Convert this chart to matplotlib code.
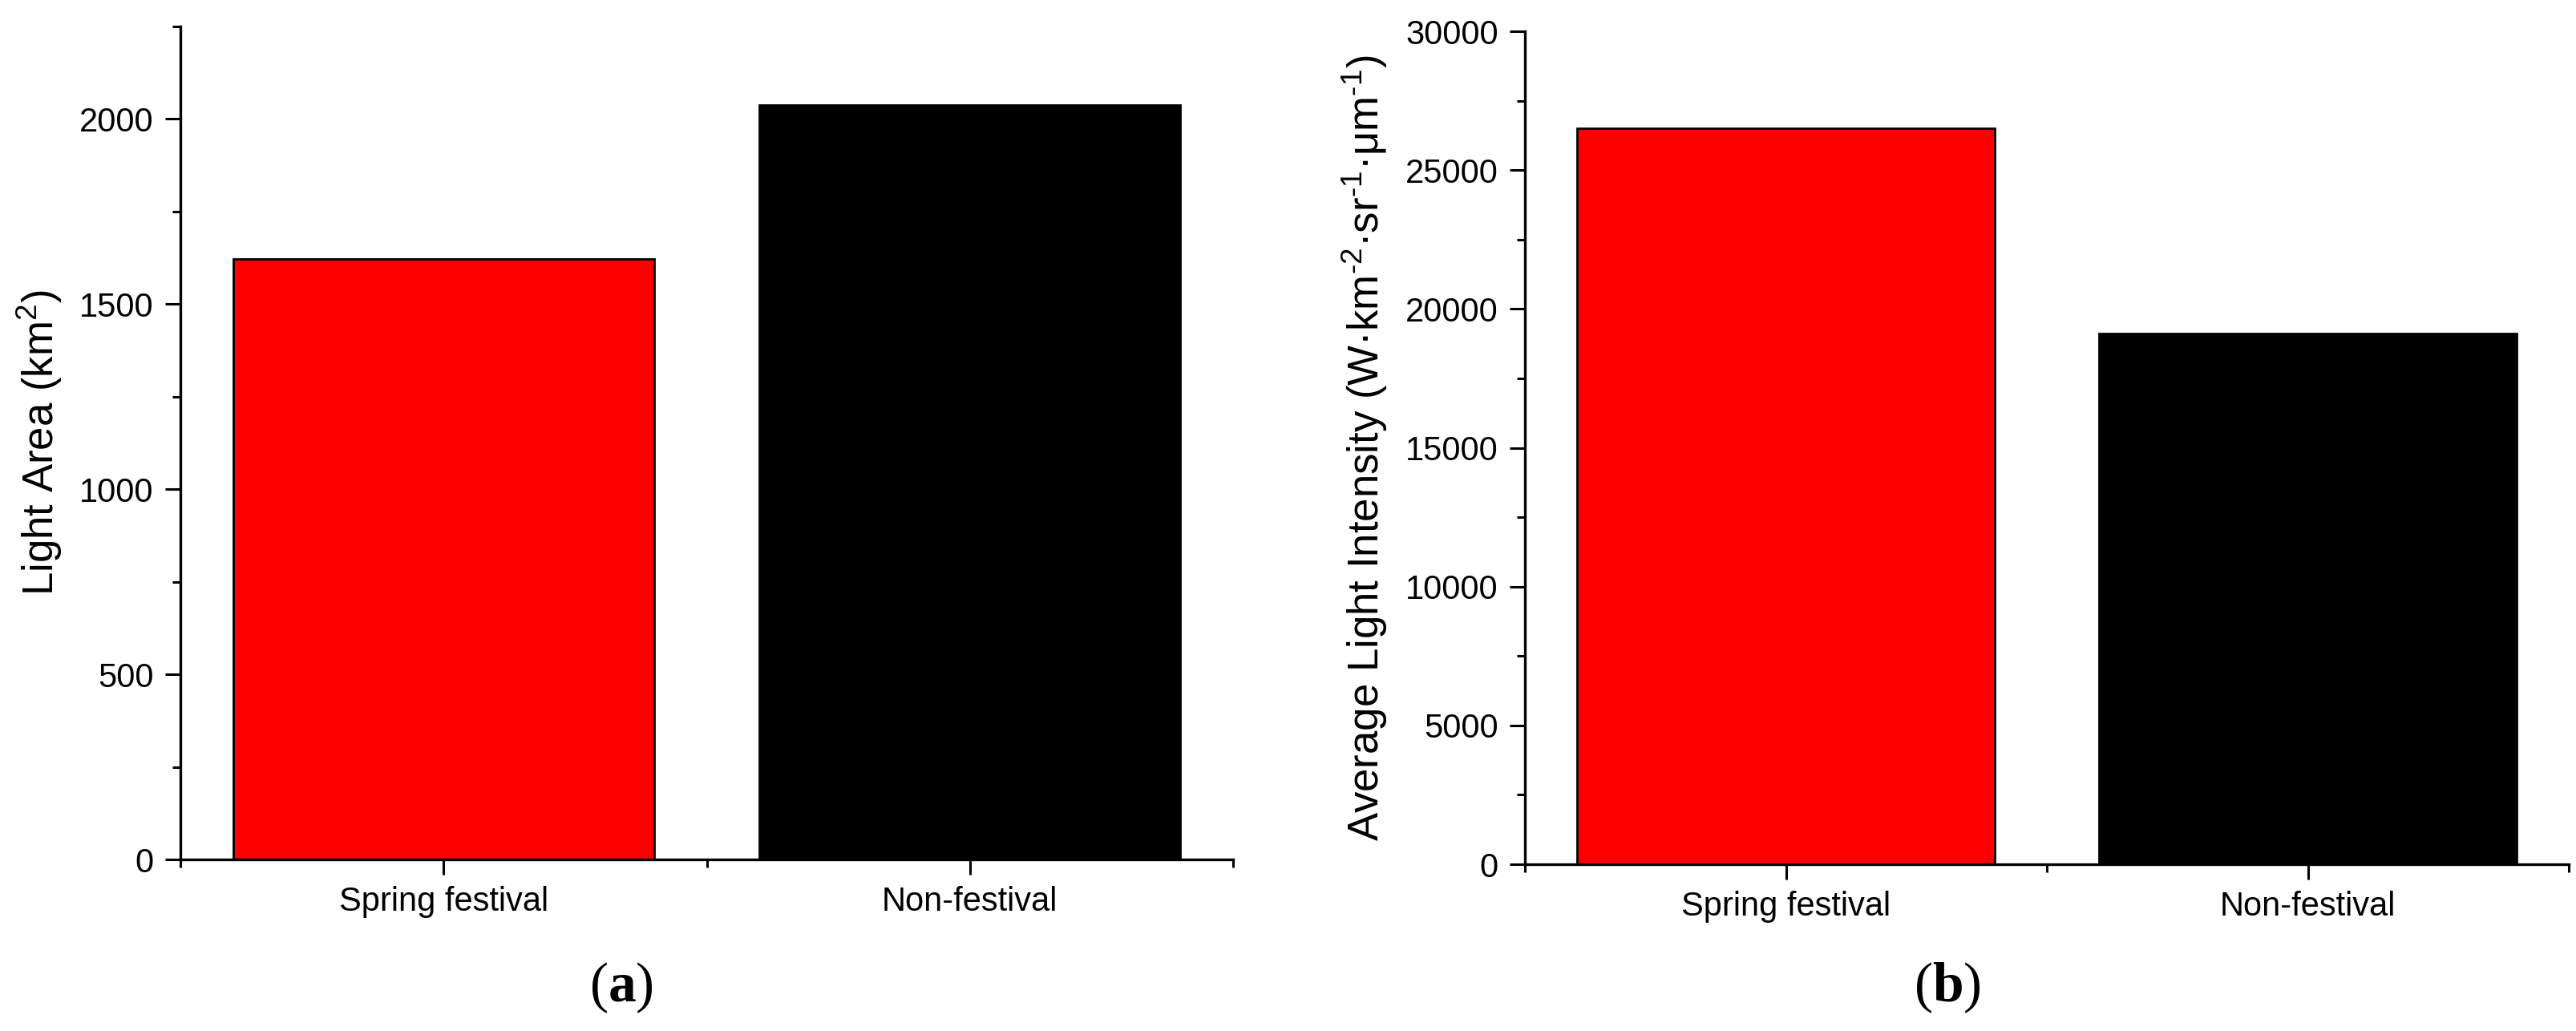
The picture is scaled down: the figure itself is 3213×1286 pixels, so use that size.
# Light area and average light intensity, spring festival vs non-festival
import matplotlib
matplotlib.use("Agg")
import matplotlib.pyplot as plt
from matplotlib.ticker import MultipleLocator, FixedLocator

# data
categories = ["Spring festival", "Non-festival"]
light_area = [1622, 2037]          # km^2
light_intensity = [26500, 19130]   # W km-2 sr-1 um-1
bar_colors = ["#FF0000", "#000000"]

plt.rcParams["font.family"] = ["Liberation Sans", "DejaVu Sans"]
plt.rcParams["mathtext.fontset"] = "custom"
plt.rcParams["mathtext.rm"] = "Liberation Sans"
plt.rcParams["mathtext.it"] = "Liberation Sans:italic"
plt.rcParams["mathtext.bf"] = "Liberation Serif:bold"

fig = plt.figure(figsize=(32.13, 12.86), dpi=100)
ax1 = fig.add_axes([0.07003, 0.1664, 0.40865, 0.8079])
ax2 = fig.add_axes([0.59197, 0.1617, 0.40523, 0.8079])


def style_axis(ax, vals, ymax, major, minor):
    x = list(range(1, len(categories) + 1))
    ax.bar(x, vals, width=0.8, color=bar_colors, edgecolor="black", linewidth=2)
    ax.set_xlim(0.5, len(categories) + 0.5)
    ax.set_ylim(0, ymax)
    ax.set_xticks(x)
    ax.set_xticklabels(categories)
    ax.xaxis.set_minor_locator(FixedLocator([0.5 + i for i in range(len(categories) + 1)]))
    ax.yaxis.set_major_locator(MultipleLocator(major))
    ax.yaxis.set_minor_locator(MultipleLocator(minor))
    for s in ["top", "right"]:
        ax.spines[s].set_visible(False)
    for s in ["left", "bottom"]:
        ax.spines[s].set_linewidth(2.4)
    ax.tick_params(which="major", direction="out", length=14, width=2.2, labelsize=30, pad=10)
    ax.tick_params(which="minor", direction="out", length=7, width=2.2)


style_axis(ax1, light_area, 2250, 500, 250)
ax1.set_ylabel("Light Area (km$^2$)", fontsize=38)
ax1.yaxis.set_label_coords(-0.1104, 0.5)

style_axis(ax2, light_intensity, 30000, 5000, 2500)
ax2.set_ylabel("Average Light Intensity (W·km$^{\\text{-}2}$·sr$^{\\text{-}1}$·μm$^{\\text{-}1}$)",
               fontsize=38)
ax2.yaxis.set_label_coords(-0.1298, 0.5)

fig.text(0.2412, 0.042, "($\\mathbf{a}$)", fontsize=50, family="Liberation Serif",
         ha="center", va="center")
fig.text(0.756, 0.042, "($\\mathbf{b}$)", fontsize=50, family="Liberation Serif",
         ha="center", va="center")

fig.savefig("out.png", dpi=100)
